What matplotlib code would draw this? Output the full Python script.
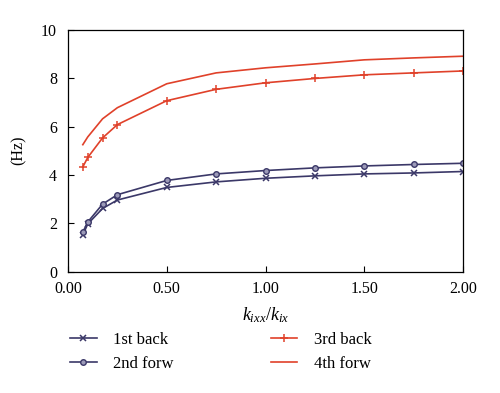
import matplotlib
matplotlib.use("Agg")
import matplotlib.pyplot as plt

plt.rcParams['font.family'] = ['Liberation Serif', 'DejaVu Serif']
plt.rcParams['mathtext.fontset'] = 'custom'
plt.rcParams['mathtext.it'] = 'Liberation Serif:italic'
plt.rcParams['mathtext.rm'] = 'Liberation Serif'

x = [0.075, 0.1, 0.175, 0.25, 0.5, 0.75, 1.0, 1.25, 1.5, 1.75, 2.0]
first_back = [1.51, 1.97, 2.61, 2.96, 3.48, 3.71, 3.86, 3.96, 4.04, 4.08, 4.14]
second_forw = [1.63, 2.05, 2.79, 3.18, 3.77, 4.04, 4.18, 4.29, 4.37, 4.43, 4.48]
third_back = [4.33, 4.72, 5.53, 6.08, 7.07, 7.54, 7.81, 7.99, 8.14, 8.22, 8.30]
fourth_forw = [5.25, 5.57, 6.32, 6.78, 7.77, 8.22, 8.43, 8.59, 8.76, 8.84, 8.91]

xticks = [0, 0.5, 1.0, 1.5, 2.0]
xticklabels = ["0.00", "0.50", "1.00", "1.50", "2.00"]
yticks = [0, 2, 4, 6, 8, 10]

navy = '#3b3868'
red = '#e0412a'

fig = plt.figure(figsize=(5, 3.93), dpi=100)
ax = fig.add_axes([0.136, 0.309, 0.79, 0.615])

ax.plot(x, first_back, color=navy, lw=1.2, marker='x', ms=4.5, mew=1.1, label='1st back')
ax.plot(x, second_forw, color=navy, lw=1.2, marker='o', ms=4, mew=1.0,
        mfc='#9c9ab8', label='2nd forw')
ax.plot(x, third_back, color=red, lw=1.2, marker='+', ms=6, mew=1.1, label='3rd back')
ax.plot(x, fourth_forw, color=red, lw=1.2, label='4th forw')

ax.set_xlim(0, 2.0)
ax.set_ylim(0, 10)
ax.set_xticks(xticks)
ax.set_xticklabels(xticklabels)
ax.set_yticks(yticks)
ax.tick_params(direction='in', labelsize=11.5, length=4, width=0.8)
ax.tick_params(axis='x', pad=7)
ax.tick_params(axis='y', pad=8)
for s in ax.spines.values():
    s.set_linewidth(0.9)

ax.set_xlabel(r'$k_{ixx}/k_{ix}$', fontsize=13, labelpad=6)
ax.set_ylabel('(Hz)', fontsize=11.5, labelpad=10)

fig.legend(loc='upper left', bbox_to_anchor=(0.11, 0.193), ncol=2, frameon=False,
           fontsize=12, handlelength=1.6, columnspacing=5.8, labelspacing=0.45,
           handletextpad=1.0)

fig.savefig('out.png', dpi=100)
